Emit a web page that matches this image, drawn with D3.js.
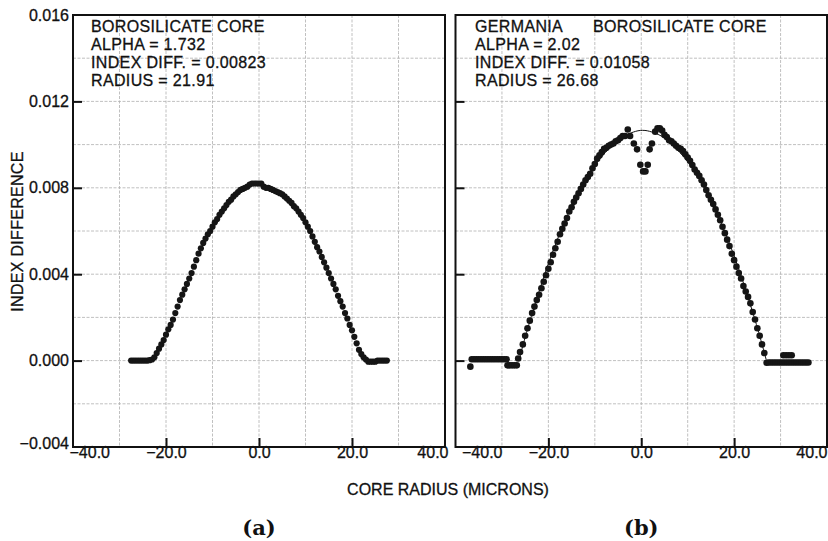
<!DOCTYPE html>
<html><head><meta charset="utf-8">
<script src="https://cdn.jsdelivr.net/npm/d3@7"></script>
<style>
html,body{margin:0;padding:0;background:#fff;}
svg{display:block;}
text{font-family:"Liberation Sans",Arial,Helvetica,sans-serif;fill:#111;}
</style></head><body>
<svg id="chart" width="828" height="541"></svg>
<script>
// ---------- data ----------
// Panel (a): borosilicate core
const aRadius = [-27.5,-27,-26.5,-26,-25.5,-25,-24.5,-24,-23.5,-23,-22.5,-22,-21.5,-21,-20.5,-20,-19.5,-19,-18.5,-18,-17.5,-17,-16.5,-16,-15.5,-15,-14.5,-14,-13.5,-13,-12.5,-12,-11.5,-11,-10.5,-10,-9.5,-9,-8.5,-8,-7.5,-7,-6.5,-6,-5.5,-5,-4.5,-4,-3.5,-3,-2.5,-2,-1.5,-1,-0.5,0,0.5,1,1.5,2,2.5,3,3.5,4,4.5,5,5.5,6,6.5,7,7.5,8,8.5,9,9.5,10,10.5,11,11.5,12,12.5,13,13.5,14,14.5,15,15.5,16,16.5,17,17.5,18,18.5,19,19.5,20,20.5,21,21.5,22,22.5,23,23.5,24,24.5,25,25.5,26,26.5,27,27.5];
const aIndex = [0,0,0,0,0,0,0,0,0.00002,0.00005,0.00015,0.00035,0.00055,0.00075,0.00095,0.0012,0.00145,0.00165,0.0019,0.0022,0.0025,0.0028,0.00305,0.0033,0.00355,0.0038,0.00405,0.00435,0.00465,0.00495,0.0052,0.00545,0.00565,0.00585,0.006,0.0062,0.0064,0.00655,0.00675,0.0069,0.00705,0.0072,0.00735,0.00745,0.0076,0.0077,0.0078,0.0079,0.00795,0.008,0.00805,0.00815,0.0082,0.0082,0.0082,0.0082,0.0082,0.00805,0.008,0.008,0.00795,0.0079,0.00785,0.0078,0.00775,0.0077,0.0076,0.0075,0.0074,0.0073,0.00715,0.00705,0.0069,0.00675,0.0066,0.0064,0.0062,0.006,0.00575,0.0055,0.00525,0.00505,0.0048,0.00455,0.0043,0.00405,0.0038,0.00355,0.0033,0.003,0.00275,0.0025,0.0022,0.00195,0.00165,0.0014,0.0011,0.0008,0.0005,0.0003,0.00015,0.00005,-0.00005,-0.00005,-0.00005,-0.00005,0,0,0,0,0];

// Panel (b): germania borosilicate core
const bRadius = [-36.8,-36.5,-36,-35.5,-35,-34.5,-34,-33.5,-33,-32.5,-32,-31.5,-31,-30.5,-30,-29.5,-29,-28.8,-28.3,-27.8,-27.3,-26.8,-26.5,-26.1,-25.5,-25,-24.5,-24,-23.5,-23,-22.5,-22,-21.5,-21,-20.5,-20,-19.5,-19,-18.5,-18,-17.5,-17,-16.5,-16,-15.5,-15,-14.5,-14,-13.5,-13,-12.5,-12,-11.5,-11,-10.5,-10,-9.5,-9,-8.5,-8,-7.5,-7,-6.5,-6,-5.5,-5,-4.5,-4,-3.5,-2.9,-2.4,-1.6,-0.9,-0.2,0.4,0.9,1.4,1.8,2.3,3,3.5,4,4.5,5,5.5,6,6.5,7,7.5,8,8.5,9,9.5,10,10.5,11,11.5,12,12.5,13,13.5,14,14.5,15,15.5,16,16.5,17,17.5,18,18.5,19,19.5,20,20.5,21,21.5,22,22.5,23,23.5,24,24.5,25,25.5,26,26.5,27,27.5,28,28.5,29,29.5,30,30.5,31,31.5,32,32.5,33,33.5,34,34.5,35,35.5,36,30.6,31.2,31.8,32.4];
const bIndex = [-0.00028,0.00006,0.00006,0.00006,0.00006,0.00006,0.00006,0.00006,0.00006,0.00006,0.00006,0.00006,0.00006,0.00006,0.00006,0.00006,0.00006,-0.00022,-0.00022,-0.00022,-0.00022,-0.00022,0.0001,0.0004,0.00075,0.00115,0.0015,0.00185,0.0022,0.0025,0.0028,0.00305,0.00335,0.00365,0.00395,0.00425,0.00455,0.0049,0.0052,0.0055,0.00585,0.0061,0.00635,0.0066,0.0069,0.0071,0.00735,0.00755,0.00775,0.00795,0.00815,0.00835,0.0085,0.00865,0.0089,0.0091,0.00935,0.0095,0.00965,0.0098,0.00985,0.00995,0.01,0.01005,0.01015,0.0102,0.0103,0.0104,0.0104,0.0107,0.0104,0.01005,0.00978,0.00907,0.00876,0.00876,0.00907,0.00978,0.01005,0.0106,0.01075,0.01075,0.01065,0.01045,0.01035,0.0102,0.01015,0.01005,0.00995,0.00985,0.0098,0.0097,0.00955,0.0094,0.00925,0.00905,0.00885,0.0087,0.00855,0.00835,0.00815,0.0079,0.00765,0.00745,0.00725,0.007,0.00675,0.0065,0.0062,0.0059,0.0056,0.0053,0.00495,0.00465,0.00435,0.00405,0.0038,0.00345,0.0032,0.00295,0.00265,0.00225,0.0019,0.0015,0.00115,0.00075,0.00035,-0.0001,-0.00009,-0.00009,-0.00009,-0.00009,-0.00009,-0.00009,-0.00009,-0.00009,-0.00009,-0.00009,-0.00009,-0.00009,-0.00009,-0.00009,-0.00009,-0.00009,-0.00009,-0.00009,0.00025,0.00025,0.00025,0.00025];
// thin fitted profile drawn under the points of panel (b)
const bFitRadius = [-26.3,-25.7,-24.7,-23.7,-21.7,-19.7,-17.7,-15.7,-13.7,-11.7,-9.7,-7.7,-5.7,-3.7,-2.7,-1.7,-0.7,0.3,1.3,2.3,3.3,4.3,6.3,8.3,10.3,12.3,14.3,16.3,18.3,20.3,22.3,24.3,25.3,26.3,26.9];
const bFitIndex = [0.00005,0.00053,0.0013,0.00203,0.0034,0.00467,0.0058,0.00681,0.0077,0.00847,0.00912,0.00964,0.01006,0.0104,0.0105,0.01058,0.01064,0.01066,0.01064,0.01058,0.0105,0.0104,0.01006,0.00964,0.00912,0.00847,0.0077,0.00681,0.0058,0.00467,0.0034,0.00203,0.0013,0.00053,0.00005];

// axes / ticks / labels
const xDomain = [-40, 40];
const yDomain = [-0.004, 0.016];
const xTickValues = [-40, -20, 0, 20, 40];
const yTickValues = [-0.004, 0, 0.004, 0.008, 0.012, 0.016];
const xInnerTicks = [-20, 0, 20];
const yInnerTicks = [0, 0.004, 0.008, 0.012];
const xGridValues = [-30, -20, -10, 0, 10, 20, 30];
const yGridValues = [-0.002, 0, 0.002, 0.004, 0.006, 0.008, 0.010, 0.012, 0.014];
const aNotes = ["BOROSILICATE CORE", "ALPHA = 1.732", "INDEX DIFF. = 0.00823", "RADIUS = 21.91"];
const bNotes = ["GERMANIA", "ALPHA = 2.02", "INDEX DIFF. = 0.01058", "RADIUS = 26.68"];
const bNoteExtra = "BOROSILICATE CORE";
const xTitle = "CORE RADIUS (MICRONS)";
const yTitle = "INDEX DIFFERENCE";
const panelLabels = ["(a)", "(b)"];

// ---------- drawing ----------
const svg = d3.select("#chart");
svg.append("rect").attr("width", 828).attr("height", 541).attr("fill", "#fff");

const plotTop = 15, plotBottom = 447;
const y = d3.scaleLinear().domain(yDomain).range([plotBottom, plotTop]);
const fmtX = d3.format(".1f"), fmtY = d3.format(".3f");
const FONT = '"Liberation Sans",Arial,Helvetica,sans-serif';

function styleText(sel, size, ls) {
  sel.attr("font-size", size).attr("letter-spacing", ls)
    .attr("font-family", FONT).attr("fill", "#111")
    .attr("stroke", "#111").attr("stroke-width", 0.3);
}

const panels = [
  {x0: 73, x1: 445, r: aRadius, v: aIndex, dot: 3.1, notes: aNotes, noteX: 91,
   first: {anchor: "start", dx: -4}, last: {anchor: "end", dx: 3}, yLabels: true, label: panelLabels[0]},
  {x0: 455.5, x1: 827, r: bRadius, v: bIndex, dot: 3.3, notes: bNotes, noteX: 475,
   first: {anchor: "start", dx: 6}, last: {anchor: "end", dx: 0}, yLabels: false, label: panelLabels[1]}
];

const noteBase = [32, 50, 68, 86];

panels.forEach((p, i) => {
  const x = d3.scaleLinear().domain(xDomain).range([p.x0, p.x1]);
  const g = svg.append("g");

  // grid
  g.append("g").selectAll("line").data(xGridValues).join("line")
    .attr("x1", d => x(d)).attr("x2", d => x(d)).attr("y1", plotTop).attr("y2", plotBottom)
    .attr("stroke", "#b0b0b0").attr("stroke-width", 0.8).attr("stroke-dasharray", "3,1.5");
  g.append("g").selectAll("line").data(yGridValues).join("line")
    .attr("x1", p.x0).attr("x2", p.x1).attr("y1", d => y(d)).attr("y2", d => y(d))
    .attr("stroke", "#b0b0b0").attr("stroke-width", 0.8).attr("stroke-dasharray", "3,1.5");

  // fitted line (panel b)
  if (i === 1) {
    const fit = bFitRadius.map((r, k) => [r, bFitIndex[k]]);
    g.append("path").datum(fit)
      .attr("d", d3.line().x(d => x(d[0])).y(d => y(d[1])).curve(d3.curveMonotoneX))
      .attr("fill", "none").attr("stroke", "#111").attr("stroke-width", 1);
  }

  // points
  const n = Math.min(p.r.length, p.v.length);
  const pts = p.r.slice(0, n).map((r, k) => [r, p.v[k]]);
  g.append("g").selectAll("circle").data(pts).join("circle")
    .attr("cx", d => x(d[0])).attr("cy", d => y(d[1])).attr("r", p.dot)
    .attr("fill", "#151515");

  // frame
  g.append("rect").attr("x", p.x0).attr("y", plotTop).attr("width", p.x1 - p.x0).attr("height", plotBottom - plotTop)
    .attr("fill", "none").attr("stroke", "#111").attr("stroke-width", 2);

  // inward ticks
  const yt = g.append("g").attr("transform", `translate(${p.x0},0)`)
    .call(d3.axisRight(y).tickValues(yInnerTicks).tickSize(9).tickFormat(""));
  yt.select(".domain").remove();
  yt.selectAll("line").attr("stroke", "#111").attr("stroke-width", 2);
  const xt = g.append("g").attr("transform", `translate(0,${plotBottom})`)
    .call(d3.axisTop(x).tickValues(xInnerTicks).tickSize(9).tickFormat(""));
  xt.select(".domain").remove();
  xt.selectAll("line").attr("stroke", "#111").attr("stroke-width", 2);

  // x labels
  const xa = g.append("g").attr("transform", `translate(0,${plotBottom})`)
    .call(d3.axisBottom(x).tickValues(xTickValues).tickSize(0).tickPadding(0).tickFormat(fmtX));
  xa.select(".domain").remove();
  styleText(xa.selectAll("text"), 16, 0);
  const xtexts = xa.selectAll("text").nodes();
  d3.select(xtexts[0]).attr("text-anchor", p.first.anchor).attr("dx", p.first.dx);
  d3.select(xtexts[xtexts.length - 1]).attr("text-anchor", p.last.anchor).attr("dx", p.last.dx);

  // y labels
  if (p.yLabels) {
    const ya = g.append("g").attr("transform", `translate(${p.x0},0)`)
      .call(d3.axisLeft(y).tickValues(yTickValues).tickSize(0).tickPadding(4).tickFormat(fmtY));
    ya.select(".domain").remove();
    styleText(ya.selectAll("text"), 16, 0);
    const ytexts = ya.selectAll("text").nodes();
    d3.select(ytexts[0]).attr("dy", "0.1em");
  }

  // notes
  styleText(g.append("g").selectAll("text").data(p.notes).join("text")
    .attr("x", p.noteX).attr("y", (d, k) => noteBase[k]).text(d => d), 16, 0.35);
  if (i === 1) {
    styleText(g.append("text").attr("x", 593).attr("y", noteBase[0]).text(bNoteExtra), 16, 0.35);
  }

  // panel label
  g.append("text").attr("x", (p.x0 + p.x1) / 2).attr("y", 535)
    .attr("text-anchor", "middle").attr("font-size", 21).attr("font-weight", "bold")
    .style("font-family", '"DejaVu Serif","Liberation Serif",serif').attr("fill", "#111").text(p.label);
});

// axis titles
styleText(svg.append("text").attr("x", 448).attr("y", 495).attr("text-anchor", "middle").text(xTitle), 16, 0);
styleText(svg.append("text").attr("transform", "translate(23,231.5) rotate(-90)").attr("text-anchor", "middle").text(yTitle), 16, 0.3);
</script>
</body></html>
